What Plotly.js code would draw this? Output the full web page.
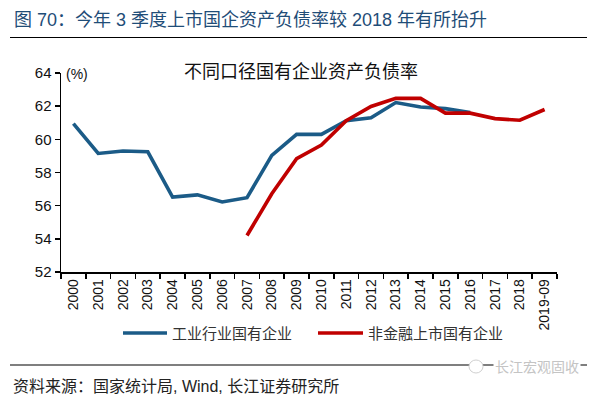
<!DOCTYPE html>
<html>
<head>
<meta charset="utf-8">
<script src="https://cdn.plot.ly/plotly-3.0.1.min.js"></script>
<style>html,body{margin:0;padding:0;background:#fff;}#chart{width:600px;height:396px;}</style>
</head>
<body>
<div id="chart"></div>
<script>
const years = ["2000","2001","2002","2003","2004","2005","2006","2007","2008","2009","2010","2011","2012","2013","2014","2015","2016","2017","2018","2019-09"];
const industrialSOE = [60.95,59.15,59.3,59.25,56.52,56.65,56.22,56.48,59.03,60.3,60.3,61.12,61.3,62.22,61.95,61.85,61.62,null,null,null];
const listedSOE = [null,null,null,null,null,null,null,54.2,56.72,58.83,59.65,61.12,61.98,62.48,62.47,61.58,61.58,61.25,61.15,61.8];
const seriesNames = ["工业行业国有企业","非金融上市国有企业"];
const seriesColors = ['#1b5b87', '#c00000'];

const cjk = '"Liberation Sans", Arial, "Noto Sans CJK SC", sans-serif';
const latin = '"Liberation Sans", Arial, sans-serif';

// plot area in pixels: x 61..557, y 73..272
const L = 61, R = 557, T = 73, B = 272;
const px = v => (v - L) / (R - L);
const py = v => (B - v) / (B - T);

const traces = [
  {x: years, y: industrialSOE, name: seriesNames[0], type: 'scatter', mode: 'lines',
   line: {color: seriesColors[0], width: 3.6}, connectgaps: false},
  {x: years, y: listedSOE, name: seriesNames[1], type: 'scatter', mode: 'lines',
   line: {color: seriesColors[1], width: 3.6}, connectgaps: false}
];

const layout = {
  width: 600, height: 396,
  margin: {l: L, r: 600 - R, t: T, b: 396 - B},
  paper_bgcolor: '#fff', plot_bgcolor: '#fff',
  showlegend: false,
  xaxis: {type: 'category', tickson: 'boundaries', ticks: 'outside', ticklen: 5, tickwidth: 1.5,
    tickcolor: '#000', showline: true, linecolor: '#000', linewidth: 1.5, showgrid: false,
    tickangle: -90, tickfont: {family: latin, size: 14, color: '#111'}, range: [-0.5, 19.5], zeroline: false},
  yaxis: {range: [52, 64], dtick: 2, ticks: 'outside', ticklen: 5, tickwidth: 1.5, tickcolor: '#000',
    showline: true, linecolor: '#000', linewidth: 1.5, showgrid: false, zeroline: false,
    tickfont: {family: latin, size: 15, color: '#111'}},
  annotations: [
    {text: '图 70：今年 3 季度上市国企资产负债率较 2018 年有所抬升', xref: 'paper', yref: 'paper',
     x: px(12), xanchor: 'left', y: py(20), yanchor: 'middle', showarrow: false,
     font: {family: cjk, size: 18, color: '#1f4d78'}},
    {text: '不同口径国有企业资产负债率', xref: 'paper', yref: 'paper', x: px(301), xanchor: 'center',
     y: py(72), yanchor: 'middle', showarrow: false, font: {family: cjk, size: 18, color: '#111'}},
    {text: '(%)', xref: 'paper', yref: 'paper', x: px(64), xanchor: 'left', y: py(74), yanchor: 'middle',
     showarrow: false, font: {family: latin, size: 14, color: '#111'}},
    {text: seriesNames[0], xref: 'paper', yref: 'paper', x: px(170), xanchor: 'left', y: py(333),
     yanchor: 'middle', showarrow: false, font: {family: cjk, size: 15, color: '#333'}},
    {text: seriesNames[1], xref: 'paper', yref: 'paper', x: px(366), xanchor: 'left', y: py(333),
     yanchor: 'middle', showarrow: false, font: {family: cjk, size: 15, color: '#333'}},
    {text: '资料来源：国家统计局, Wind, 长江证券研究所', xref: 'paper', yref: 'paper', x: px(11),
     xanchor: 'left', y: py(386), yanchor: 'middle', showarrow: false,
     font: {family: cjk, size: 16, color: '#222'}},
    {text: '长江宏观固收', xref: 'paper', yref: 'paper', x: px(581), xanchor: 'right', y: py(367),
     yanchor: 'middle', showarrow: false, bgcolor: '#fff', font: {family: cjk, size: 14, color: '#c4c4c4'}}
  ],
  shapes: [
    {type: 'line', xref: 'paper', yref: 'paper', x0: px(10), x1: px(587), y0: py(37.5), y1: py(37.5),
     line: {color: '#000', width: 1.2}},
    {type: 'line', xref: 'paper', yref: 'paper', x0: px(10), x1: px(587), y0: py(365), y1: py(365),
     line: {color: '#000', width: 1.2}},
    {type: 'line', xref: 'paper', yref: 'paper', x0: px(123), x1: px(167), y0: py(333), y1: py(333),
     line: {color: seriesColors[0], width: 3.6}},
    {type: 'line', xref: 'paper', yref: 'paper', x0: px(318), x1: px(363), y0: py(333), y1: py(333),
     line: {color: seriesColors[1], width: 3.6}},
    {type: 'circle', xref: 'paper', yref: 'paper', x0: px(469), x1: px(483), y0: py(360), y1: py(373),
     line: {color: '#d0d0d0', width: 1}, fillcolor: '#fff'}
  ]
};

Plotly.newPlot('chart', traces, layout, {displayModeBar: false, staticPlot: true});
</script>
</body>
</html>
